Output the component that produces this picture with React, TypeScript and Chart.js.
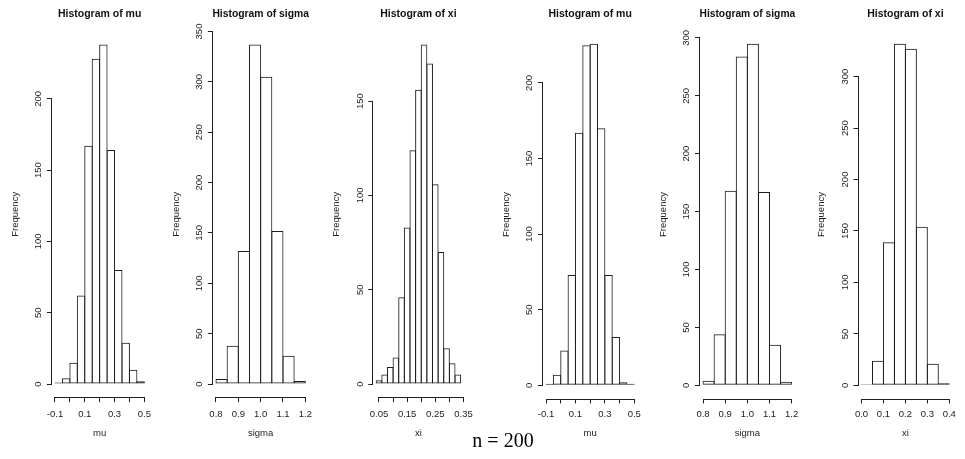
import React, { useEffect, useRef } from 'react';
import { Chart, registerables } from 'chart.js';

Chart.register(...registerables);

// ---- histogram bins (edges) ----
const muBreaks = [-0.1, -0.05, 0, 0.05, 0.1, 0.15, 0.2, 0.25, 0.3, 0.35, 0.4, 0.45, 0.5];
const sigmaBreaks = [0.8, 0.85, 0.9, 0.95, 1.0, 1.05, 1.1, 1.15, 1.2];
const xiBreaksFine = [0.04, 0.06, 0.08, 0.1, 0.12, 0.14, 0.16, 0.18, 0.2, 0.22, 0.24, 0.26, 0.28, 0.3, 0.32, 0.34];
const xiBreaksCoarse = [0, 0.05, 0.1, 0.15, 0.2, 0.25, 0.3, 0.35, 0.4];

// ---- bin counts ----
const muCountsA = [1, 4, 15, 62, 167, 228, 238, 164, 80, 29, 10, 2];
const sigmaCountsA = [5, 38, 132, 337, 305, 152, 28, 3];
const xiCountsA = [2, 5, 9, 14, 46, 83, 124, 156, 180, 170, 106, 70, 19, 11, 5];
const muCountsB = [1, 7, 23, 73, 167, 225, 226, 170, 73, 32, 2, 1];
const sigmaCountsB = [4, 44, 168, 284, 295, 167, 35, 3];
const xiCountsB = [1, 24, 139, 332, 327, 154, 21, 2];

// ---- axis ticks and printed labels ----
const muTicks = [-0.1, 0, 0.1, 0.2, 0.3, 0.4, 0.5];
const muTickLabels = ['-0.1', '', '0.1', '', '0.3', '', '0.5'];
const sigmaTicks = [0.8, 0.9, 1.0, 1.1, 1.2];
const sigmaTickLabels = ['0.8', '0.9', '1.0', '1.1', '1.2'];
const xiTicksFine = [0.05, 0.1, 0.15, 0.2, 0.25, 0.3, 0.35];
const xiTickLabelsFine = ['0.05', '', '0.15', '', '0.25', '', '0.35'];
const xiTicksCoarse = [0, 0.1, 0.2, 0.3, 0.4];
const xiTickLabelsCoarse = ['0.0', '0.1', '0.2', '0.3', '0.4'];

const freqTicks150 = [0, 50, 100, 150];
const freqTicks200 = [0, 50, 100, 150, 200];
const freqTicks300 = [0, 50, 100, 150, 200, 250, 300];
const freqTicks350 = [0, 50, 100, 150, 200, 250, 300, 350];

const yAxisTitle = 'Frequency';
const sampleNote = 'n = 200';

// ---- page layout ----
const W = 965;
const H = 459;
const SANS = "'Liberation Sans', Arial, Helvetica, sans-serif";
const SERIF = "'Liberation Serif', 'Times New Roman', serif";
const INK = '#1e1e1e';
const TEXT = '#222';
const Y_AXIS_W = 52;
const X_AXIS_H = 45;
const PAD_R = 10;
const TICK_LEN = 4.5;
const AXIS_FONT = 9.5;
const TITLE_FONT = 10.5;
const TITLE_Y = 14;
const TICK_LABEL_Y = 414;
const X_TITLE_Y = 433;
const Y_TITLE_GAP = 36.4;
const Y_LABEL_GAP = 12.7;

type PanelSpec = {
  title: string;
  xLabel: string;
  breaks: number[];
  counts: number[];
  xTicks: number[];
  xTickLabels: string[];
  yTicks: number[];
  left: number;
  right: number;
  top: number;
  bottom: number;
};

const panels: PanelSpec[] = [
  { title: 'Histogram of mu', xLabel: 'mu', breaks: muBreaks, counts: muCountsA, xTicks: muTicks, xTickLabels: muTickLabels, yTicks: freqTicks200, left: 51.4, right: 147.9, top: 31, bottom: 397.6 },
  { title: 'Histogram of sigma', xLabel: 'sigma', breaks: sigmaBreaks, counts: sigmaCountsA, xTicks: sigmaTicks, xTickLabels: sigmaTickLabels, yTicks: freqTicks350, left: 212.4, right: 308.9, top: 31, bottom: 397.6 },
  { title: 'Histogram of xi', xLabel: 'xi', breaks: xiBreaksFine, counts: xiCountsA, xTicks: xiTicksFine, xTickLabels: xiTickLabelsFine, yTicks: freqTicks150, left: 372.8, right: 468.9, top: 31, bottom: 397.6 },
  { title: 'Histogram of mu', xLabel: 'mu', breaks: muBreaks, counts: muCountsB, xTicks: muTicks, xTickLabels: muTickLabels, yTicks: freqTicks200, left: 542.5, right: 637.8, top: 30, bottom: 399 },
  { title: 'Histogram of sigma', xLabel: 'sigma', breaks: sigmaBreaks, counts: sigmaCountsB, xTicks: sigmaTicks, xTickLabels: sigmaTickLabels, yTicks: freqTicks300, left: 699.5, right: 795.2, top: 30, bottom: 399 },
  { title: 'Histogram of xi', xLabel: 'xi', breaks: xiBreaksCoarse, counts: xiCountsB, xTicks: xiTicksCoarse, xTickLabels: xiTickLabelsCoarse, yTicks: freqTicks300, left: 858, right: 952.8, top: 30, bottom: 399 },
];

// Axis lines that run only between the first and last tick, base-graphics style
const axisLines = {
  id: 'axisLines',
  afterDraw(chart: any) {
    const { ctx, chartArea, scales } = chart;
    const x = scales.x;
    const y = scales.y;
    const crisp = (p: number) => Math.round(p - 0.5) + 0.5;
    ctx.save();
    ctx.strokeStyle = INK;
    ctx.lineWidth = 1;
    ctx.lineCap = 'square';
    const xb = crisp(chartArea.bottom);
    ctx.beginPath();
    ctx.moveTo(crisp(x.getPixelForValue(x.ticks[0].value)), xb);
    ctx.lineTo(crisp(x.getPixelForValue(x.ticks[x.ticks.length - 1].value)), xb);
    const yl = crisp(chartArea.left);
    ctx.moveTo(yl, crisp(y.getPixelForValue(y.ticks[0].value)));
    ctx.lineTo(yl, crisp(y.getPixelForValue(y.ticks[y.ticks.length - 1].value)));
    ctx.stroke();
    ctx.restore();
  },
};

function HistPanel({ spec }: { spec: PanelSpec }) {
  const ref = useRef<HTMLCanvasElement>(null);
  const canvasLeft = Math.floor(spec.left - Y_AXIS_W);
  const canvasWidth = Math.ceil(spec.right + PAD_R) - canvasLeft;

  useEffect(() => {
    const canvas = ref.current;
    if (!canvas) return;
    const padL = spec.left - Y_AXIS_W - canvasLeft;
    const padR = canvasLeft + canvasWidth - spec.right;
    const b = spec.breaks;
    const span = b[b.length - 1] - b[0];
    const xMin = b[0] - 0.04 * span;
    const xMax = b[b.length - 1] + 0.04 * span;
    const peak = Math.max(...spec.counts);
    const binPx = ((b[1] - b[0]) * (spec.right - spec.left)) / (xMax - xMin);
    const points = spec.counts.map((c, i) => ({ x: (b[i] + b[i + 1]) / 2, y: c }));

    const axisLH = AXIS_FONT * 1.2;
    const titleLH = TITLE_FONT * 1.2;
    const axisFont = { family: SANS, size: AXIS_FONT };

    const chart = new Chart(canvas, {
      type: 'bar',
      data: {
        datasets: [
          {
            data: points,
            backgroundColor: 'rgba(0,0,0,0)',
            borderColor: INK,
            borderWidth: 1,
            borderSkipped: false,
            barPercentage: (binPx + 1) / binPx,
            categoryPercentage: 1,
          } as any,
        ],
      },
      options: {
        responsive: false,
        animation: false,
        devicePixelRatio: 1,
        layout: {
          padding: { left: padL, right: padR, top: 0, bottom: H - spec.bottom - X_AXIS_H },
        },
        plugins: {
          legend: { display: false },
          tooltip: { enabled: false },
          title: {
            display: true,
            text: spec.title,
            fullSize: false,
            color: '#111',
            font: { family: SANS, size: TITLE_FONT, weight: 'bold' },
            padding: { top: TITLE_Y - titleLH / 2, bottom: spec.top - TITLE_Y - titleLH / 2 },
          },
        },
        scales: {
          x: {
            type: 'linear',
            min: xMin,
            max: xMax,
            offset: false,
            border: { display: false },
            grid: { offset: false, drawOnChartArea: false, drawTicks: true, tickLength: TICK_LEN, color: INK, lineWidth: 1 },
            afterBuildTicks: (s: any) => {
              s.ticks = spec.xTicks.map((v) => ({ value: v }));
            },
            afterFit: (s: any) => {
              s.height = X_AXIS_H;
            },
            ticks: {
              autoSkip: false,
              minRotation: 0,
              maxRotation: 0,
              color: TEXT,
              font: axisFont,
              padding: TICK_LABEL_Y - spec.bottom - TICK_LEN - axisLH / 2,
              callback: (_v: any, i: number) => spec.xTickLabels[i],
            },
            title: {
              display: true,
              text: spec.xLabel,
              color: TEXT,
              font: axisFont,
              padding: { top: 0, bottom: spec.bottom + X_AXIS_H - X_TITLE_Y - axisLH / 2 },
            },
          },
          y: {
            type: 'linear',
            min: -0.04 * peak,
            max: 1.04 * peak,
            border: { display: false },
            grid: { drawOnChartArea: false, drawTicks: true, tickLength: TICK_LEN, color: INK, lineWidth: 1 },
            afterBuildTicks: (s: any) => {
              s.ticks = spec.yTicks.map((v) => ({ value: v }));
            },
            afterFit: (s: any) => {
              s.width = Y_AXIS_W;
            },
            ticks: {
              autoSkip: false,
              minRotation: 90,
              maxRotation: 90,
              crossAlign: 'center',
              color: TEXT,
              font: axisFont,
              padding: Math.max(0, Y_LABEL_GAP - TICK_LEN - (3 * 0.556 * AXIS_FONT) / 2),
              callback: (v: any) => String(v),
            },
            title: {
              display: true,
              text: yAxisTitle,
              color: TEXT,
              font: axisFont,
              padding: { top: Y_AXIS_W - Y_TITLE_GAP - axisLH / 2, bottom: 0 },
            },
          },
        },
      } as any,
      plugins: [axisLines],
    });
    return () => chart.destroy();
  }, []);

  return (
    <canvas
      ref={ref}
      width={canvasWidth}
      height={H}
      style={{ position: 'absolute', left: canvasLeft, top: 0, width: canvasWidth, height: H }}
    />
  );
}

export default function App() {
  return (
    <div
      style={{
        position: 'absolute',
        left: 0,
        top: 0,
        width: W,
        height: H,
        background: '#fff',
        overflow: 'hidden',
      }}
    >
      {panels.map((p, i) => (
        <HistPanel key={i} spec={p} />
      ))}
      <div
        style={{
          position: 'absolute',
          left: 503,
          top: 440,
          transform: 'translate(-50%, -50%)',
          fontFamily: SERIF,
          fontSize: 20,
          lineHeight: 1,
          whiteSpace: 'nowrap',
          color: '#000',
        }}
      >
        {sampleNote}
      </div>
    </div>
  );
}
